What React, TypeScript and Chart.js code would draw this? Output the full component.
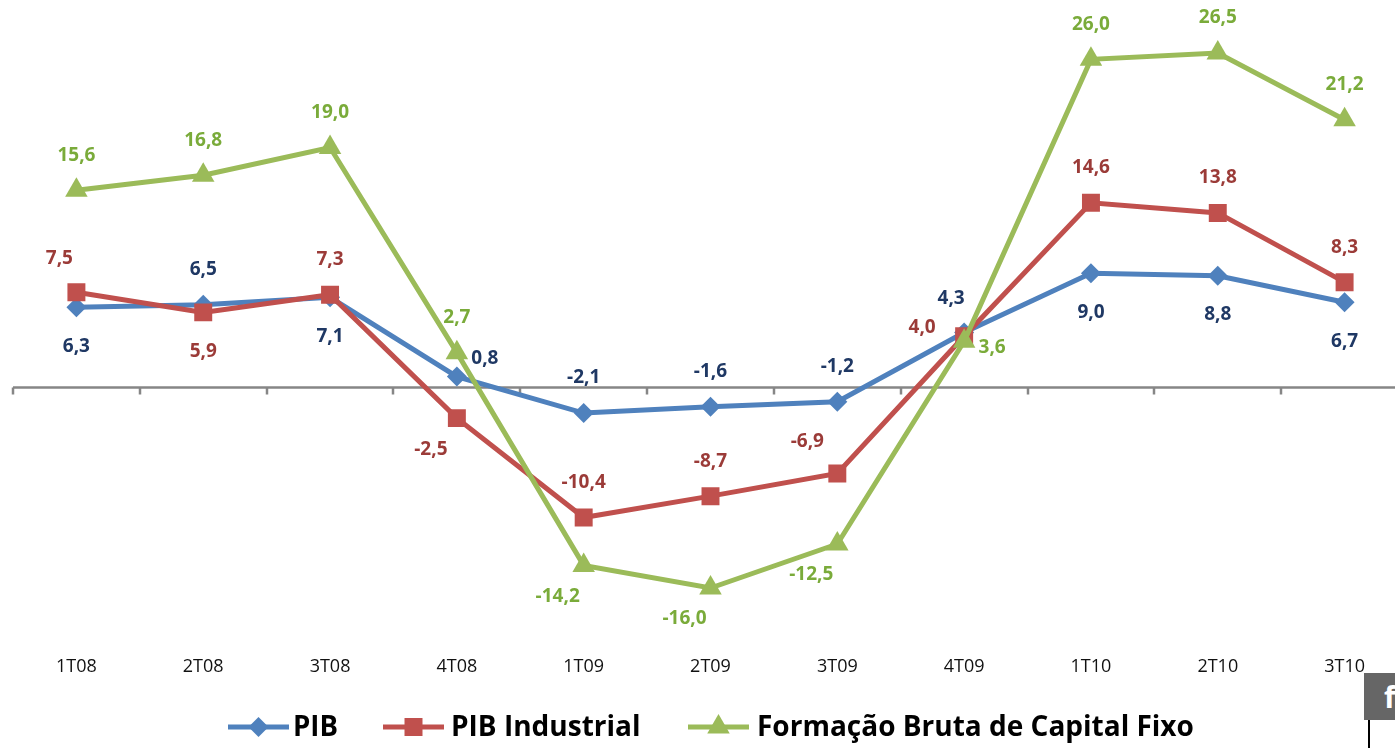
import React, { useEffect, useRef } from "react";
import { Chart, registerables } from "chart.js";

Chart.register(...registerables);

const categories = ["1T08", "2T08", "3T08", "4T08", "1T09", "2T09", "3T09", "4T09", "1T10", "2T10", "3T10"];
const pib = [6.3, 6.5, 7.1, 0.8, -2.1, -1.6, -1.2, 4.3, 9.0, 8.8, 6.7];
const pibIndustrial = [7.5, 5.9, 7.3, -2.5, -10.4, -8.7, -6.9, 4.0, 14.6, 13.8, 8.3];
const fbcf = [15.6, 16.8, 19.0, 2.7, -14.2, -16.0, -12.5, 3.6, 26.0, 26.5, 21.2];
const seriesNames = ["PIB", "PIB Industrial", "Formação Bruta de Capital Fixo"];

// label placement codes per point
const pibPlace = ["b", "a", "b", "ar", "a", "a", "a", "al", "b", "b", "b"];
const indPlace = ["al2", "b", "a", "bl", "a", "a", "al3", "l", "a", "a", "a"];
const fbcfPlace = ["a", "a", "a", "a", "bl", "bl", "bl", "r", "a", "a", "a"];

const OFFSETS: Record<string, [number, number]> = {
  a: [0, -35],
  b: [0, 39],
  ar: [28, -18],
  r: [28, 6],
  al: [-13, -34],
  al2: [-17, -34],
  al3: [-30, -32],
  l: [-42, -9],
  bl: [-26, 31],
};

const COLORS = ["#4F81BD", "#C0504D", "#9BBB59"];
const LABEL_COLORS = ["#1F3864", "#9B3B38", "#7AAB3A"];
const PLACES = [pibPlace, indPlace, fbcfPlace];

const FONT = "'Open Sans', 'DejaVu Sans', sans-serif";

function drawMarker(ctx: CanvasRenderingContext2D, kind: string, x: number, y: number, color: string) {
  ctx.save();
  ctx.fillStyle = color;
  ctx.beginPath();
  if (kind === "rectRot") {
    const r = 10;
    ctx.moveTo(x, y - r);
    ctx.lineTo(x + r, y);
    ctx.lineTo(x, y + r);
    ctx.lineTo(x - r, y);
  } else if (kind === "rect") {
    const s = 9;
    ctx.rect(x - s, y - s, 2 * s, 2 * s);
  } else {
    const r = 13;
    ctx.moveTo(x, y - r);
    ctx.lineTo(x + r * 0.866, y + r * 0.5);
    ctx.lineTo(x - r * 0.866, y + r * 0.5);
  }
  ctx.closePath();
  ctx.fill();
  ctx.restore();
}

const overlayPlugin = {
  id: "overlay",
  beforeDatasetsDraw(chart: any) {
    const ctx = chart.ctx as CanvasRenderingContext2D;
    const x = chart.scales.x;
    const y = chart.scales.y;
    const y0 = Math.round(y.getPixelForValue(0)) + 0.5;
    const { left, right } = chart.chartArea;
    ctx.save();
    ctx.strokeStyle = "#868686";
    ctx.lineWidth = 2.5;
    ctx.beginPath();
    ctx.moveTo(left, y0);
    ctx.lineTo(right, y0);
    const half = (x.getPixelForValue(1) - x.getPixelForValue(0)) / 2;
    for (let i = 0; i <= categories.length; i++) {
      const px = Math.round(x.getPixelForValue(0) - half + i * 2 * half);
      ctx.moveTo(px, y0);
      ctx.lineTo(px, y0 + 7);
    }
    ctx.stroke();
    ctx.restore();
  },
  afterDatasetsDraw(chart: any) {
    const ctx = chart.ctx as CanvasRenderingContext2D;
    ctx.save();
    ctx.font = `bold 19px ${FONT}`;
    ctx.textAlign = "center";
    ctx.textBaseline = "middle";
    chart.data.datasets.forEach((ds: any, di: number) => {
      const meta = chart.getDatasetMeta(di);
      ctx.fillStyle = LABEL_COLORS[di];
      meta.data.forEach((pt: any, i: number) => {
        const off = OFFSETS[PLACES[di][i]];
        const v = ds.data[i] as number;
        const txt = v.toFixed(1).replace(".", ",");
        ctx.fillText(txt, pt.x + off[0], pt.y + off[1]);
      });
    });
    // legend
    const ly = 727;
    const items = [
      { lx: 228, tx: 293, tw: 45, kind: "rectRot" },
      { lx: 383, tx: 451, tw: 191, kind: "rect" },
      { lx: 688, tx: 757, tw: 443, kind: "triangle" },
    ];
    items.forEach((it, i) => {
      ctx.strokeStyle = COLORS[i];
      ctx.lineWidth = 5;
      ctx.beginPath();
      ctx.moveTo(it.lx, ly);
      ctx.lineTo(it.lx + 61, ly);
      ctx.stroke();
      drawMarker(ctx, it.kind, it.lx + 30.5, ly, COLORS[i]);
      ctx.fillStyle = "#000";
      ctx.font = `bold 28px ${FONT}`;
      ctx.textAlign = "left";
      ctx.textBaseline = "middle";
      ctx.fillText(seriesNames[i], it.tx, ly + 1, it.tw);
    });
    ctx.restore();
  },
};

export default function App() {
  const ref = useRef<HTMLCanvasElement>(null);
  useEffect(() => {
    if (!ref.current) return;
    const chart = new Chart(ref.current, {
      type: "line",
      data: {
        labels: categories,
        datasets: [
          {
            label: seriesNames[0],
            data: pib,
            borderColor: COLORS[0],
            backgroundColor: COLORS[0],
            borderWidth: 5,
            pointStyle: "rectRot",
            pointRadius: 10,
            pointBorderWidth: 0,
            order: 3,
          },
          {
            label: seriesNames[1],
            data: pibIndustrial,
            borderColor: COLORS[1],
            backgroundColor: COLORS[1],
            borderWidth: 5,
            pointStyle: "rect",
            pointRadius: 12.7,
            pointBorderWidth: 0,
            order: 2,
          },
          {
            label: seriesNames[2],
            data: fbcf,
            borderColor: COLORS[2],
            backgroundColor: COLORS[2],
            borderWidth: 5,
            pointStyle: "triangle",
            pointRadius: 13,
            pointBorderWidth: 0,
            order: 1,
          },
        ],
      },
      options: {
        animation: false,
        responsive: false,
        maintainAspectRatio: false,
        layout: { autoPadding: false, padding: { left: 13, right: 2, top: 9, bottom: 60 } },
        plugins: { legend: { display: false }, tooltip: { enabled: false } },
        scales: {
          x: {
            offset: true,
            grid: { display: false },
            border: { display: false },
            ticks: {
              color: "#111",
              font: { family: FONT, size: 18 },
              padding: 10,
              maxRotation: 0,
            },
          },
          y: {
            display: false,
            min: -20,
            max: 30,
          },
        },
      },
      plugins: [overlayPlugin],
    });
    return () => chart.destroy();
  }, []);

  return (
    <div style={{ position: "absolute", left: 0, top: 0, width: 1395, height: 748, overflow: "hidden", background: "#fff" }}>
      <canvas ref={ref} width={1410} height={748} style={{ width: 1410, height: 748, display: "block" }} />
      <div style={{ position: "absolute", left: 1364, top: 673, width: 40, height: 47, background: "#666", color: "#fff", font: `bold 30px ${FONT}`, lineHeight: "47px", paddingLeft: 20, boxSizing: "border-box" }}>f</div>
      <div style={{ position: "absolute", left: 1368, top: 720, width: 2, height: 28, background: "#000" }} />
    </div>
  );
}
